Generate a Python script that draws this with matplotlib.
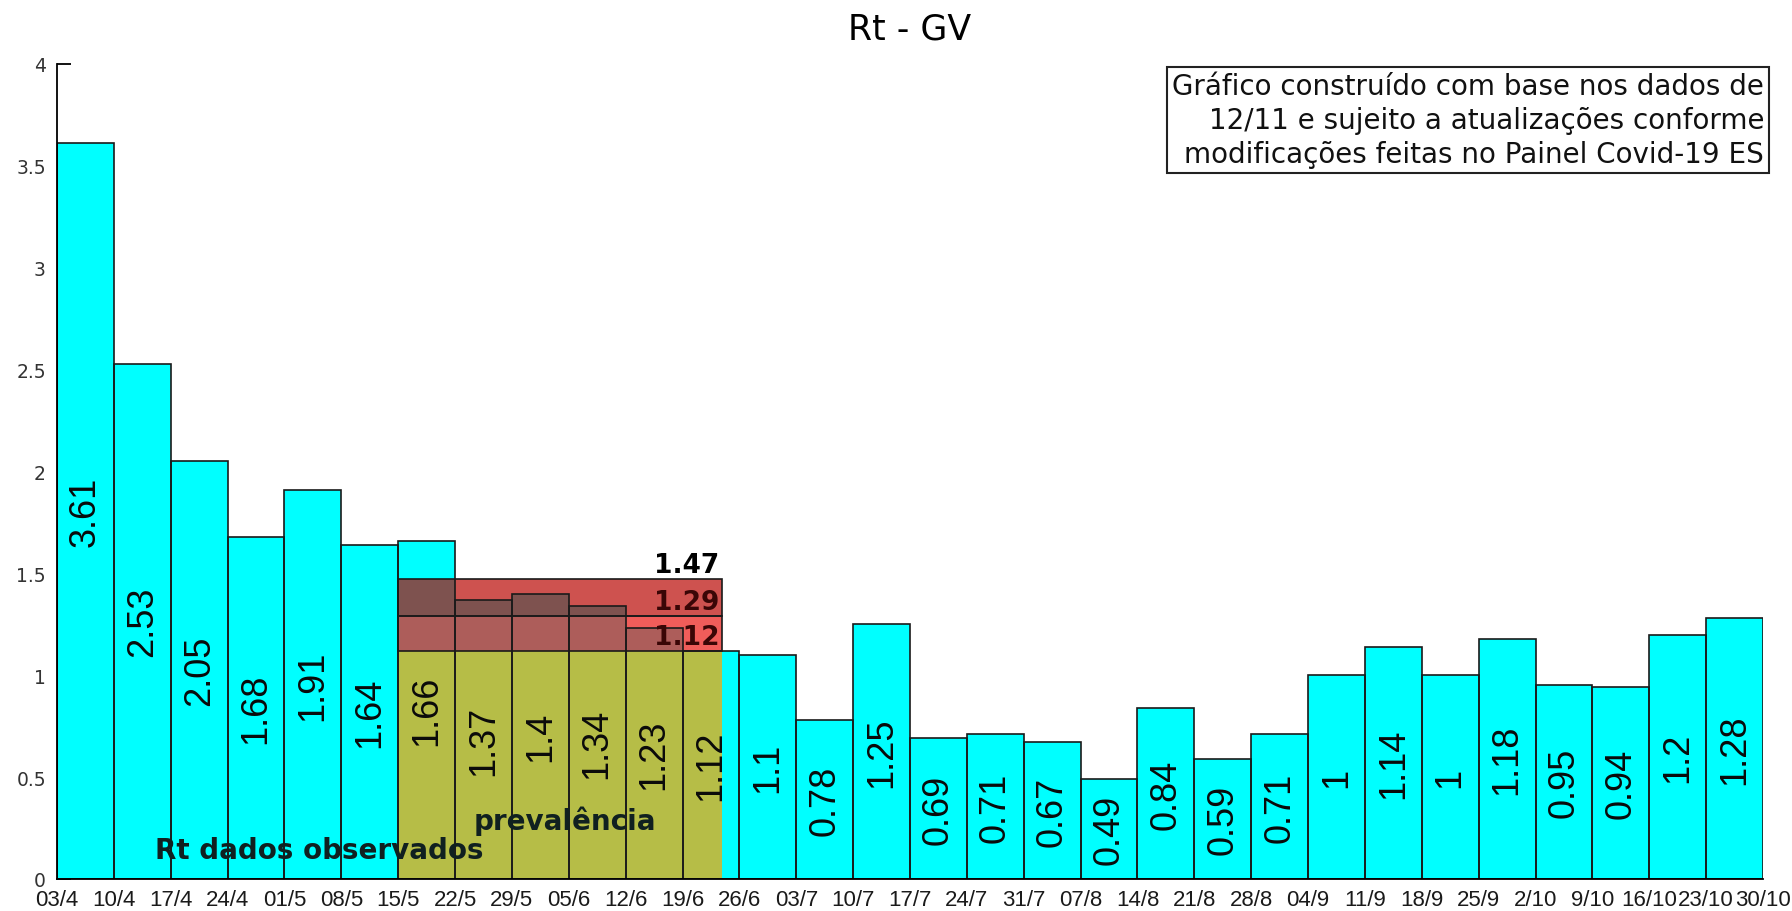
import matplotlib
matplotlib.use("Agg")
import matplotlib.pyplot as plt
from matplotlib.patches import Rectangle

# ---------------- data ----------------
week_labels = ['03/4', '10/4', '17/4', '24/4', '01/5', '08/5', '15/5', '22/5', '29/5',
               '05/6', '12/6', '19/6', '26/6', '03/7', '10/7', '17/7', '24/7', '31/7',
               '07/8', '14/8', '21/8', '28/8', '04/9', '11/9', '18/9', '25/9', '2/10',
               '9/10', '16/10', '23/10', '30/10']
rt_values = [3.61, 2.53, 2.05, 1.68, 1.91, 1.64, 1.66, 1.37, 1.4, 1.34, 1.23, 1.12,
             1.1, 0.78, 1.25, 0.69, 0.71, 0.67, 0.49, 0.84, 0.59, 0.71, 1, 1.14,
             1, 1.18, 0.95, 0.94, 1.2, 1.28]
prev_levels = [1.12, 1.29, 1.47]          # prevalence-based Rt (low, mid, high)
prev_window = [6, 11.7]                   # week positions covered by prevalence estimate
title = 'Rt - GV'
note = ('Gráfico construído com base nos dados de\n'
        '12/11 e sujeito a atualizações conforme\n'
        'modificações feitas no Painel Covid-19 ES')
label_obs = 'Rt dados observados'
label_prev = 'prevalência'

# ---------------- figure ----------------
W, H, DPI = 1792, 912, 100
fig = plt.figure(figsize=(W / DPI, H / DPI), dpi=DPI)
ax = fig.add_axes([57 / W, 1 - 880 / H, (1763 - 57) / W, (880 - 65) / H])

n = len(rt_values)
xs = [i + 0.5 for i in range(n)]
ax.bar(xs, rt_values, width=1.0, color='#00ffff', edgecolor='none', zorder=1)

# prevalence shading
x0, x1 = prev_window
lo, mid, hi = prev_levels
ax.add_patch(Rectangle((x0, 0), x1 - x0, lo, facecolor='#b6bd47', edgecolor='none', zorder=2))
ax.add_patch(Rectangle((x0, lo), x1 - x0, mid - lo, facecolor=(0.92, 0.14, 0.13),
                       alpha=0.74, edgecolor='none', zorder=3))
ax.add_patch(Rectangle((x0, mid), x1 - x0, hi - mid, facecolor=(0.72, 0.02, 0.0),
                       alpha=0.69, edgecolor='none', zorder=3))
for y0, y1 in [(lo, mid), (mid, hi)]:
    ax.add_patch(Rectangle((x0, y0), x1 - x0, y1 - y0, facecolor='none',
                           edgecolor='#1a1a1a', lw=1.2, zorder=4))

# bar outlines on top
ax.bar(xs, rt_values, width=1.0, color='none', edgecolor='#1a1a1a', linewidth=1.2, zorder=4)

# value labels in bars
for x, v in zip(xs, rt_values):
    ax.text(x, v / 2, f'{v:g}', rotation=90, ha='center', va='center',
            fontsize=26, family='Liberation Sans', color='#0a0a0a', zorder=6)

# prevalence level labels
for v, c in zip(prev_levels, ['#3a0606', '#3a0606', '#000000']):
    ax.text(x1 - 0.05, v + 0.005, f'{v:g}', ha='right', va='bottom', fontsize=19,
            fontweight='bold', family='DejaVu Sans', color=c, zorder=6)

ax.text(1.72, 0.14, label_obs, ha='left', va='center', fontsize=20, fontweight='bold',
        family='DejaVu Sans', color='#102020', zorder=7)
ax.text(7.33, 0.29, label_prev, ha='left', va='center', fontsize=20, fontweight='bold',
        family='DejaVu Sans', color='#102020', zorder=7)

# axes styling
ax.set_xlim(0, n)
ax.set_ylim(0, 4)
ax.set_axisbelow(True)
for s in ['top', 'right']:
    ax.spines[s].set_visible(False)
ax.spines['left'].set_linewidth(1.3)
ax.spines['bottom'].set_linewidth(1.3)
ax.spines['left'].set_zorder(5)
ax.spines['bottom'].set_zorder(5)
ax.set_xticks(range(n + 1))
ax.set_xticklabels(week_labels, family='Liberation Sans', fontsize=16, color='#1a1a1a')
ax.set_yticks([0, 0.5, 1, 1.5, 2, 2.5, 3, 3.5, 4])
ax.set_yticklabels(['0', '0.5', '1', '1.5', '2', '2.5', '3', '3.5', '4'],
                   family='DejaVu Sans', fontsize=13.5, color='#333333')
ax.tick_params(axis='y', direction='in', length=10, width=1.3, pad=8)
ax.tick_params(axis='x', direction='in', length=0, pad=7)

fig.text(910 / W, 1 - 30 / H, title, ha='center', va='center', fontsize=25,
         family='DejaVu Sans', color='#000000')
fig.text(1764 / W, 1 - 73 / H, note, ha='right', va='top', fontsize=20,
         family='DejaVu Sans', color='#111111', linespacing=1.27,
         bbox=dict(boxstyle='square,pad=0.18', facecolor='white', edgecolor='#222222', lw=1.5))

fig.savefig('out.png', dpi=DPI, facecolor='white')
